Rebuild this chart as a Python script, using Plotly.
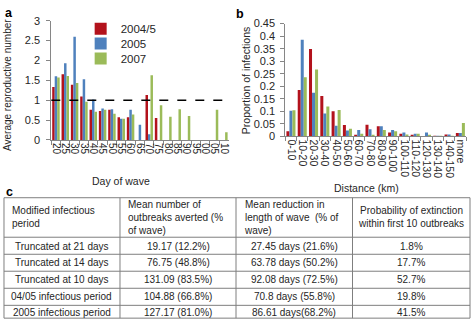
import plotly.graph_objects as go

W, H = 474, 328

# ---------- Panel a data ----------
days = ["20", "25", "30", "35", "40", "45", "50", "55", "60", "65",
        "70", "75", "80", "85", "90", "95", "00", "05", "10"]
r_2004 = [1.33, 1.65, 1.39, 1.09, 0.76, 0.73, 0.76, 0.57, 0.57, 0, 1.13, 0.55, 0, 0, 0, 0, 0, 0, 0]
r_2005 = [1.60, 1.93, 2.60, 1.53, 1.02, 0.79, 0.77, 0.53, 0.76, 0.38, 0.14, 0, 0, 0, 0, 0, 0, 0, 0]
r_2007 = [1.57, 1.61, 1.43, 0.96, 0.71, 0.76, 0.66, 0.53, 0.64, 0, 1.63, 0.87, 0.58, 0.77, 0.60, 0, 0, 0.76, 0.19]

# ---------- Panel b data ----------
dist = ["0-10", "10-20", "20-30", "30-40", "40-50", "50-60", "60-70", "70-80",
        "80-90", "90-100", "100-110", "110-120", "120-130", "130-140", "140-150", "more"]
p_2004 = [0.020, 0.185, 0.349, 0.161, 0.100, 0.045, 0.005, 0.046, 0.040, 0.015, 0.010, 0.003, 0.000, 0.001, 0.007, 0.013]
p_2005 = [0.102, 0.386, 0.174, 0.091, 0.042, 0.023, 0.025, 0.028, 0.040, 0.025, 0.015, 0.010, 0.015, 0.001, 0.007, 0.013]
p_2007 = [0.104, 0.236, 0.267, 0.119, 0.105, 0.030, 0.010, 0.005, 0.025, 0.020, 0.007, 0.010, 0.003, 0.001, 0.002, 0.053]

series_names = ["2004/5", "2005", "2007"]
colors = ["#B3121C", "#4F81BD", "#9BBB59"]

# ---------- Panel c data ----------
table_header = ["Modified infectious<br>period",
                "Mean number of<br>outbreaks averted (%<br>of wave)",
                "Mean reduction in<br>length of wave  (% of<br>wave)",
                "Probability of extinction<br>within first 10 outbreaks"]
col_period = ["Truncated at 21 days", "Truncated at 14 days", "Truncated at 10 days",
              "04/05 infectious period", "2005 infectious period"]
col_averted = ["19.17 (12.2%)", "76.75 (48.8%)", "131.09 (83.5%)", "104.88 (66.8%)", "127.17 (81.0%)"]
col_reduction = ["27.45 days (21.6%)", "63.78 days (50.2%)", "92.08 days (72.5%)",
                 "70.8 days (55.8%)", "86.61 days(68.2%)"]
col_extinct = ["1.8%", "17.7%", "52.7%", "19.8%", "41.5%"]

FONT = "Liberation Sans, Arial, sans-serif"
TXT = "#262626"
AX = "#868686"

fig = go.Figure()

legend_ids = ["legend", "legend2", "legend3"]
for name, vals, col, lg in zip(series_names, [r_2004, r_2005, r_2007], colors, legend_ids):
    fig.add_trace(go.Bar(x=days, y=vals, name=name, marker_color=col,
                         marker_line_width=0, xaxis="x", yaxis="y", legend=lg))
for name, vals, col in zip(series_names, [p_2004, p_2005, p_2007], colors):
    fig.add_trace(go.Bar(x=dist, y=vals, name=name, marker_color=col,
                         marker_line_width=0, xaxis="x2", yaxis="y2", showlegend=False))

def px(x):
    return x / W

def py(y):
    return 1 - y / H

axis_common = dict(showline=True, linecolor=AX, linewidth=1, showgrid=False, zeroline=False,
                   ticks="outside", ticklen=4, tickcolor=AX)
yfont = dict(family=FONT, size=11, color=TXT)
xfont_a = dict(family=FONT, size=10, color=TXT)
xfont_b = dict(family=FONT, size=10.5, color=TXT)

legend_common = dict(xanchor="left", yanchor="middle", bgcolor="rgba(0,0,0,0)",
                     font=dict(family=FONT, size=11.5, color=TXT), itemwidth=30)
fig.update_layout(
    width=W, height=H, margin=dict(l=0, r=0, t=0, b=0),
    paper_bgcolor="white", plot_bgcolor="white",
    barmode="group", bargap=0.2, bargroupgap=0,
    font=dict(family=FONT, size=11, color=TXT),
    xaxis=dict(domain=[px(50.5), px(228.5)], anchor="y", type="category",
               categoryorder="array", categoryarray=days, tickangle=90,
               tickmode="array", tickvals=days,
               tickson="boundaries", tickfont=xfont_a, **axis_common),
    yaxis=dict(domain=[py(139), py(15.3)], anchor="x", range=[0, 3], dtick=0.5,
               tickformat="~g", tickfont=yfont, ticklabelstandoff=4, **axis_common),
    xaxis2=dict(domain=[px(285.5), px(467)], anchor="y2", type="category",
                categoryorder="array", categoryarray=dist, tickangle=90,
                tickmode="array", tickvals=dist,
                tickson="boundaries", tickfont=xfont_b, **axis_common),
    yaxis2=dict(domain=[py(135.3), py(18.3)], anchor="x2", range=[0, 0.45], dtick=0.05,
                tickformat="~g", tickfont=yfont, ticklabelstandoff=3, **axis_common),
    legend=dict(x=px(80), y=py(23.5), **legend_common),
    legend2=dict(x=px(80), y=py(39), **legend_common),
    legend3=dict(x=px(80), y=py(54.5), **legend_common),
)

# dashed reference line at R = 1
fig.add_shape(type="line", xref="x domain", yref="y", x0=0, x1=1, y0=1, y1=1,
              line=dict(color="black", width=1.5, dash="dash"))

annos = []
def txt(x, y, s, size=10, bold=False, angle=0, xa="center", ya="middle", align="center"):
    annos.append(dict(x=px(x), y=py(y), xref="paper", yref="paper", text=("<b>%s</b>" % s) if bold else s,
                      showarrow=False, xanchor=xa, yanchor=ya, textangle=angle, align=align,
                      font=dict(family=FONT, size=size, color="black" if bold else TXT)))

txt(8, 7, "a", size=12.5, bold=True)
txt(240, 8, "b", size=12.5, bold=True)
txt(9, 193.5, "c", size=12.5, bold=True)
txt(6, 82, "Average reproductive number", size=10, angle=-90)
txt(121, 181.5, "Day of wave", size=10.5)
txt(246, 77, "Proportion of infections", size=10.5, angle=-90)
txt(367, 188.5, "Distance (km)", size=10.5)

# ---------- Table c ----------
xs = [3, 119.5, 236, 353, 471]
ys = [199, 240, 257.7, 275.3, 293, 310.7, 324]
LC = "#7F7F7F"
for x in xs:
    fig.add_shape(type="line", xref="paper", yref="paper", x0=px(x), x1=px(x), y0=py(ys[0]), y1=py(ys[-1]),
                  line=dict(color=LC, width=1))
for y in ys:
    fig.add_shape(type="line", xref="paper", yref="paper", x0=px(xs[0]), x1=px(xs[-1]), y0=py(y), y1=py(y),
                  line=dict(color=LC, width=1))

hdr_y = (ys[0] + ys[1]) / 2
for i, h in enumerate(table_header):
    if i < 3:
        txt(xs[i] + 6, hdr_y, h, xa="left", align="left")
    else:
        txt((xs[i] + xs[i + 1]) / 2, hdr_y, h)

cols = [col_period, col_averted, col_reduction, col_extinct]
row_centers = [249.3, 266.6, 284.1, 301.8, 318.3]
for c, colvals in enumerate(cols):
    cx = (xs[c] + xs[c + 1]) / 2
    for r, v in enumerate(colvals):
        txt(cx, row_centers[r], v)

fig.update_layout(annotations=annos)
fig.write_html("out.html", config={"displayModeBar": False},
               post_script="document.body.style.margin='0px';")
